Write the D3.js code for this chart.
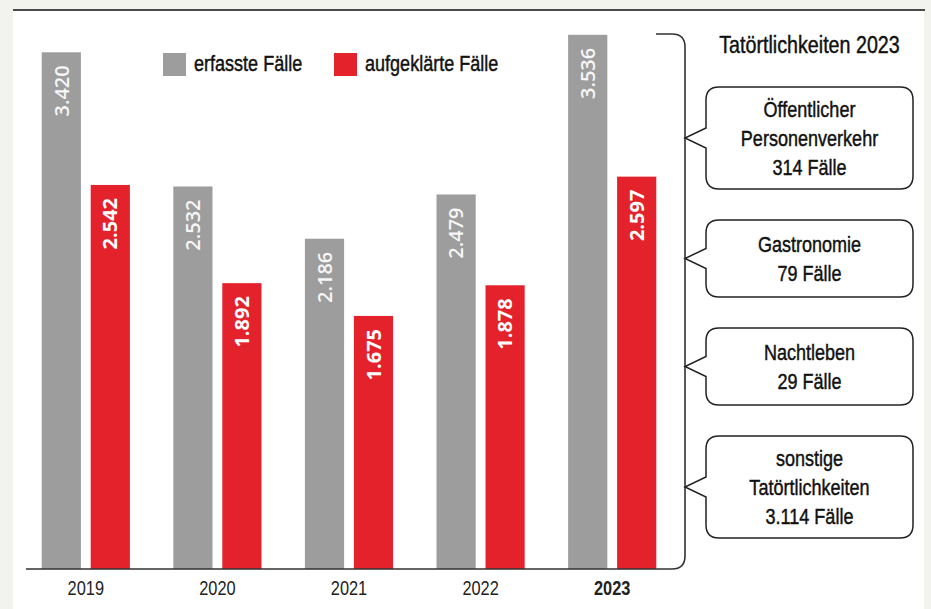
<!DOCTYPE html>
<html>
<head>
<meta charset="utf-8">
<script src="https://cdn.jsdelivr.net/npm/d3@7"></script>
<style>
  html, body { margin: 0; padding: 0; background: #f2f2ee; }
  svg { display: block; }
  .cond { font-family: "Liberation Sans", Arial, sans-serif; }
</style>
</head>
<body>
<div id="chart"></div>
<script>
// Data
var years = ["2019", "2020", "2021", "2022", "2023"];
var erfasst = [3420, 2532, 2186, 2479, 3536];
var aufgeklaert = [2542, 1892, 1675, 1878, 2597];
var seriesNames = ["erfasste Fälle", "aufgeklärte Fälle"];
var tatortLines = [
    ["Öffentlicher", "Personenverkehr"],
    ["Gastronomie"],
    ["Nachtleben"],
    ["sonstige", "Tatörtlichkeiten"]
];
var tatortFaelle = ["314", "79", "29", "3.114"];
var tatortTitle = "Tatörtlichkeiten 2023";

var W = 931, H = 609,
    grey = "#9d9d9d",
    red = "#e4222c",
    ink = "#222",
    narrow = 0.82;   // no narrow font installed, squeeze Liberation Sans instead

var svg = d3.select("#chart").append("svg")
    .attr("width", W)
    .attr("height", H);

// condensed text helper (slight stroke to get the medium weight)
function condText(parent, x, y, size, anchor) {
    var g = parent.append("g")
        .attr("transform", "translate(" + x + "," + y + ") scale(" + narrow + ",1)");
    return g.append("text")
        .attr("class", "cond")
        .attr("text-anchor", anchor || "start")
        .attr("fill", "#111")
        .attr("stroke", "#111")
        .attr("stroke-width", 0.45)
        .style("font-size", size + "px");
}

// panel
svg.append("rect").attr("x", 13).attr("y", 9).attr("width", 911).attr("height", H - 9).attr("fill", "#fff");
svg.append("rect").attr("x", 13).attr("y", 9).attr("width", 912).attr("height", 2).attr("fill", "#4a4a4a");

// scales
var x = d3.scaleBand()
    .domain(years)
    .range([20, 678])
    .paddingInner(0.33)
    .paddingOuter(0.165);

var xs = d3.scaleBand()
    .domain(["erfasst", "aufgeklaert"])
    .range([0, x.bandwidth()])
    .paddingInner(0.2);

var y = d3.scaleLinear()
    .domain([0, 3700])
    .range([569, 10]);

var rows = years.map(function(yr, i) {
    return {year: yr, vals: [
        {key: "erfasst", value: erfasst[i], color: grey},
        {key: "aufgeklaert", value: aufgeklaert[i], color: red}
    ]};
});

var groups = svg.selectAll(".grp")
    .data(rows)
    .enter().append("g")
    .attr("class", "grp")
    .attr("transform", function(d) { return "translate(" + x(d.year) + ",0)"; });

groups.selectAll("rect")
    .data(function(d) { return d.vals; })
    .enter().append("rect")
    .attr("x", function(d) { return xs(d.key); })
    .attr("y", function(d) { return y(d.value); })
    .attr("width", xs.bandwidth())
    .attr("height", function(d) { return y(0) - y(d.value); })
    .attr("fill", function(d) { return d.color; });

var fmt = d3.formatLocale({decimal: ",", thousands: ".", grouping: [3], currency: ["", "€"]}).format(",d");

groups.selectAll("text.val")
    .data(function(d) { return d.vals; })
    .enter().append("text")
    .attr("class", "val")
    .attr("transform", function(d) {
        return "translate(" + (xs(d.key) + xs.bandwidth() / 2) + "," + (y(d.value) + 13) + ") rotate(-90)";
    })
    .attr("text-anchor", "end")
    .attr("dy", "0.36em")
    .attr("fill", function(d) { return d.key === "erfasst" ? "#f6f6f6" : "#fff"; })
    .style("font-family", "'Open Sans', sans-serif")
    .style("font-size", "20px")
    .style("font-weight", function(d) { return d.key === "erfasst" ? 600 : 700; })
    .text(function(d) { return fmt(d.value); });

// x axis labels
var xAxis = d3.axisBottom(x).tickSize(0).tickPadding(12);
var ax = svg.append("g")
    .attr("transform", "translate(0," + y(0) + ")")
    .call(xAxis);
ax.select(".domain").remove();
ax.selectAll("text")
    .attr("class", "cond")
    .attr("fill", "#222")
    .attr("transform", "scale(" + narrow + ",1)")
    .style("font-size", "20px")
    .style("font-weight", function(d) { return d === "2023" ? "bold" : "normal"; });

// baseline + bracket
var bx = 685, r = 13, topY = 34;
svg.append("path")
    .attr("d", "M26," + y(0) + " H" + (bx - r) + " Q" + bx + "," + y(0) + " " + bx + "," + (y(0) - r) +
        " V" + (topY + r) + " Q" + bx + "," + topY + " " + (bx - r) + "," + topY + " H656")
    .attr("fill", "none")
    .attr("stroke", "#333")
    .attr("stroke-width", 1.6);

// legend
var legX = [163, 334];
seriesNames.forEach(function(name, i) {
    svg.append("rect").attr("x", legX[i]).attr("y", 53).attr("width", 23).attr("height", 23)
        .attr("fill", i === 0 ? grey : red);
    condText(svg, legX[i] + 31, 71, 22).text(name);
});

// title on right
var cx = 809.5;
condText(svg, cx, 53, 24, "middle").text(tatortTitle);

// callouts
var boxL = 706, boxR = 913, rad = 13, lineH = 29.5, gap = 31;
var boxTop = 87;
tatortLines.forEach(function(lines, i) {
    var all = lines.concat([tatortFaelle[i] + " Fälle"]);
    var h = 27 + all.length * 25;
    var cy = boxTop + h / 2;
    var t0 = boxTop;
    var p = "M" + (boxL + rad) + "," + t0 +
        " H" + (boxR - rad) + " Q" + boxR + "," + t0 + " " + boxR + "," + (t0 + rad) +
        " V" + (t0 + h - rad) + " Q" + boxR + "," + (t0 + h) + " " + (boxR - rad) + "," + (t0 + h) +
        " H" + (boxL + rad) + " Q" + boxL + "," + (t0 + h) + " " + boxL + "," + (t0 + h - rad) +
        " V" + (cy + 10) + " L" + bx + "," + cy + " L" + boxL + "," + (cy - 10) +
        " V" + (t0 + rad) + " Q" + boxL + "," + t0 + " " + (boxL + rad) + "," + t0 + " Z";
    svg.append("path").attr("d", p).attr("fill", "#fff").attr("stroke", ink).attr("stroke-width", 1.5);
    var t = condText(svg, cx, cy, 22, "middle");
    all.forEach(function(line, j) {
        t.append("tspan").attr("x", 0)
            .attr("y", 8 + (j - (all.length - 1) / 2) * lineH)
            .text(line);
    });
    boxTop += h + gap;
});
</script>
</body>
</html>
